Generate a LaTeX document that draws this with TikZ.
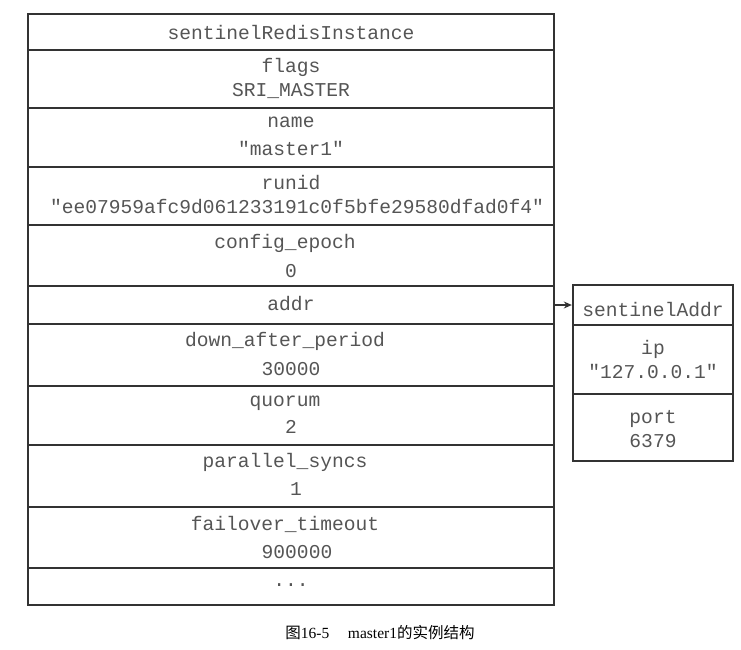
\documentclass[tikz,border=0pt]{standalone}
\usepackage{fontspec}
\setmainfont{Liberation Serif}
\setmonofont{Liberation Mono}
\newfontfamily\cjk{Noto Sans CJK SC}
\usetikzlibrary{arrows.meta}
\definecolor{linec}{HTML}{333333}
\definecolor{textc}{HTML}{555555}
\tikzset{
  cell/.style={draw=linec, line width=2.4pt, rectangle, inner sep=0pt},
  txt/.style={font=\fontsize{19.6}{22}\ttfamily, text=textc, inner sep=0pt, anchor=base},
  ptr/.style={draw=linec, line width=1.2pt, -{Stealth[length=8pt,width=7pt]}}
}
\begin{document}
\begin{tikzpicture}[x=1pt,y=-1pt]
\useasboundingbox (0,0) rectangle (741,649);
% main table rows
\node[cell, minimum width=526pt, minimum height=36pt] (r0) at (291,32) {};
\node[cell, minimum width=526pt, minimum height=58pt] (r1) at (291,79) {};
\node[cell, minimum width=526pt, minimum height=59pt] (r2) at (291,137.5) {};
\node[cell, minimum width=526pt, minimum height=58pt] (r3) at (291,196) {};
\node[cell, minimum width=526pt, minimum height=61pt] (r4) at (291,255.5) {};
\node[cell, minimum width=526pt, minimum height=38pt] (r5) at (291,305) {};
\node[cell, minimum width=526pt, minimum height=62pt] (r6) at (291,355) {};
\node[cell, minimum width=526pt, minimum height=59pt] (r7) at (291,415.5) {};
\node[cell, minimum width=526pt, minimum height=62pt] (r8) at (291,476) {};
\node[cell, minimum width=526pt, minimum height=61pt] (r9) at (291,537.5) {};
\node[cell, minimum width=526pt, minimum height=37pt] (r10) at (291,586.5) {};
% main texts (baselines)
\node[txt] (t0) at (291,39) {sentinelRedisInstance};
\node[txt] (t1a) at (291,72) {flags};
\node[txt] (t1b) at (291,96) {SRI\_MASTER};
\node[txt] (t2a) at (291,127) {name};
\node[txt] (t2b) at (291,155) {"master1"};
\node[txt] (t3a) at (291,189) {runid};
\node[txt] (t3b) at (297,213) {"ee07959afc9d061233191c0f5bfe29580dfad0f4"};
\node[txt] (t4a) at (285,248) {config\_epoch};
\node[txt] (t4b) at (291,277) {0};
\node[txt] (t5) at (291,310) {addr};
\node[txt] (t6a) at (285,346) {down\_after\_period};
\node[txt] (t6b) at (291,375) {30000};
\node[txt] (t7a) at (285,406) {quorum};
\node[txt] (t7b) at (291,433) {2};
\node[txt] (t8a) at (285,467) {parallel\_syncs};
\node[txt] (t8b) at (296,495) {1};
\node[txt] (t9a) at (285,530) {failover\_timeout};
\node[txt] (t9b) at (297,558) {900000};
\node[txt] (t10) at (291,586) {...};
% right table
\node[cell, minimum width=160pt, minimum height=40pt] (s0) at (653,305) {};
\node[cell, minimum width=160pt, minimum height=69pt] (s1) at (653,359.5) {};
\node[cell, minimum width=160pt, minimum height=67pt] (s2) at (653,427.5) {};
\node[txt] (u0) at (653,316) {sentinelAddr};
\node[txt] (u1a) at (653,354) {ip};
\node[txt] (u1b) at (653,378) {"127.0.0.1"};
\node[txt] (u2a) at (653,423) {port};
\node[txt] (u2b) at (653,447) {6379};
% pointer
\draw[ptr] (r5.east) -- (s0.west);
% caption
\node[font=\fontsize{15.5}{18}\selectfont, text=black, anchor=base, inner sep=0pt] (cap) at (380,638) {{\cjk 图}16-5\hspace{1.2em}master1{\cjk 的实例结构}};
\end{tikzpicture}
\end{document}
